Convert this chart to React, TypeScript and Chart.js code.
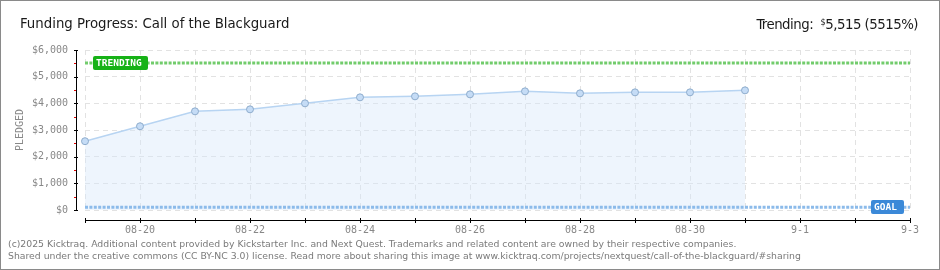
import React, { useEffect, useRef } from "react";
import { Chart, registerables } from "chart.js";

Chart.register(...registerables);

const dayLabels = ["08-19", "08-20", "08-21", "08-22", "08-23", "08-24", "08-25", "08-26", "08-27", "08-28", "08-29", "08-30", "08-31", "9-1", "9-2", "9-3"];
const pledged = [2580, 3140, 3700, 3775, 4000, 4225, 4262, 4337, 4450, 4375, 4412, 4412, 4487];
const trendingValue = 5515;
const goalValue = 100;
const yMajorTicks = [0, 1000, 2000, 3000, 4000, 5000, 6000];
const yMinorTicks = [500, 1500, 2500, 3500, 4500, 5500];

const MONO = "'DejaVu Sans Mono', monospace";

const decor = {
  id: "decor",
  afterDraw(chart: any) {
    const { ctx, chartArea, scales } = chart;
    const x = scales.x;
    const y = scales.y;
    ctx.save();
    ctx.setTransform(1, 0, 0, 1, 0, 0);
    // y axis
    const ax = Math.round(chartArea.left) - 9;
    const yTop = Math.round(y.getPixelForValue(6000));
    const yBot = Math.round(y.getPixelForValue(0));
    ctx.fillStyle = "#000000";
    ctx.fillRect(ax, yTop, 1, yBot - yTop + 1);
    for (const v of yMajorTicks) {
      const py = Math.round(y.getPixelForValue(v));
      ctx.fillRect(ax - 2, py, 4, 1);
    }
    ctx.fillStyle = "#e00000";
    for (const v of yMinorTicks) {
      const py = Math.round(y.getPixelForValue(v));
      ctx.fillRect(ax - 2, py, 2, 1);
    }
    // x axis
    const ay = Math.round(chartArea.bottom) + 10;
    ctx.fillStyle = "#000000";
    ctx.fillRect(Math.round(chartArea.left), ay, Math.round(chartArea.right - chartArea.left) + 1, 1);
    for (let i = 0; i < dayLabels.length; i++) {
      const px = Math.round(x.getPixelForValue(i));
      ctx.fillRect(px, ay - 2, 1, 5);
    }
    // y title
    ctx.fillStyle = "#888";
    ctx.font = "10px " + MONO;
    ctx.textAlign = "center";
    ctx.textBaseline = "middle";
    ctx.translate(20, (chartArea.top + chartArea.bottom) / 2);
    ctx.rotate(-Math.PI / 2);
    ctx.fillText("PLEDGED", 0, 0);
    ctx.restore();

    // labels on lines
    const drawBox = (text: string, left: number, cy: number, w: number, color: string) => {
      ctx.save();
      ctx.fillStyle = color;
      const top = Math.round(cy - 7);
      ctx.beginPath();
      (ctx as any).roundRect(left, top, w, 14, 2);
      ctx.fill();
      ctx.fillStyle = "#fff";
      ctx.font = "bold 9.5px " + MONO;
      ctx.textAlign = "left";
      ctx.textBaseline = "middle";
      ctx.fillText(text, left + 3, top + 7.5);
      ctx.restore();
    };
    drawBox("TRENDING", chartArea.left + 8, y.getPixelForValue(trendingValue), 55, "#17b217");
    drawBox("GOAL", chartArea.right - 39, y.getPixelForValue(goalValue), 33, "#3b89d8");
  },
};

export default function App() {
  const ref = useRef<HTMLCanvasElement>(null);
  useEffect(() => {
    const chart = new Chart(ref.current as HTMLCanvasElement, {
      type: "line",
      data: {
        labels: dayLabels,
        datasets: [
          {
            data: dayLabels.map(() => goalValue),
            borderColor: "#8cbbea",
            borderWidth: 3,
            borderDash: [3, 1.4],
            pointRadius: 0,
            fill: false,
          },
          {
            data: dayLabels.map(() => trendingValue),
            borderColor: "#72cc6c",
            borderWidth: 3,
            borderDash: [3, 1.4],
            pointRadius: 0,
            fill: false,
          },
          {
            data: pledged,
            borderColor: "#b7d4f2",
            borderWidth: 1.5,
            backgroundColor: "rgba(214,232,250,0.42)",
            fill: "origin",
            tension: 0,
            pointRadius: 3.5,
            pointBackgroundColor: "#c5dcf6",
            pointBorderColor: "#8eaccc",
            pointBorderWidth: 1,
          },
        ],
      },
      options: {
        responsive: false,
        animation: false,
        devicePixelRatio: 1,
        events: [],
        layout: { padding: { left: 0, right: 30, top: 50, bottom: 0 } },
        plugins: { legend: { display: false }, tooltip: { enabled: false }, title: { display: false } },
        scales: {
          x: {
            type: "category",
            offset: false,
            grid: { color: "#e2e2e2", lineWidth: 1, drawTicks: false },
            border: { display: false, dash: [5, 4] },
            ticks: {
              autoSkip: false,
              maxRotation: 0,
              padding: 14,
              color: "#888",
              font: { family: MONO, size: 10 },
              callback: (_v: any, i: number) => (i % 2 === 1 ? dayLabels[i] : ""),
            },
            afterFit: (s: any) => {
              s.height = 60;
            },
          },
          y: {
            min: 0,
            max: 6000,
            grid: { color: "#e2e2e2", lineWidth: 1, drawTicks: false },
            border: { display: false, dash: [5, 4] },
            ticks: {
              stepSize: 1000,
              padding: 17,
              color: "#888",
              font: { family: MONO, size: 10 },
              callback: (v: any) => "$" + Number(v).toLocaleString("en-US"),
            },
            afterFit: (s: any) => {
              s.width = 85;
            },
          },
        },
      },
      plugins: [decor],
    });
    return () => chart.destroy();
  }, []);

  const titleFont = "'DejaVu Sans Condensed', 'DejaVu Sans', sans-serif";
  const footFont = "'DejaVu Sans', sans-serif";
  return (
    <div style={{ position: "absolute", left: 0, top: 0, width: 940, height: 270, background: "#fff", overflow: "hidden" }}>
      <canvas ref={ref} width={940} height={270} style={{ position: "absolute", left: 0, top: 0, width: 940, height: 270 }} />
      <div style={{ position: "absolute", left: 20, top: 15, fontFamily: titleFont, fontSize: 14.8, lineHeight: "15px", color: "#1a1a1a", whiteSpace: "nowrap" }}>
        Funding Progress: Call of the Blackguard
      </div>
      <div style={{ position: "absolute", right: 22, top: 15, fontFamily: titleFont, fontSize: 14.8, lineHeight: "15px", letterSpacing: "-0.5px", color: "#1a1a1a", whiteSpace: "nowrap", textAlign: "right" }}>
        Trending:&nbsp; <span style={{ fontSize: 9, verticalAlign: "4px" }}>$</span>5,515 (5515%)
      </div>
      <div style={{ position: "absolute", left: 8, top: 238, fontFamily: footFont, fontSize: 9.3, lineHeight: "12px", color: "#7a7a7a", whiteSpace: "nowrap" }}>
        (c)2025 Kicktraq. Additional content provided by Kickstarter Inc. and Next Quest. Trademarks and related content are owned by their respective companies.
        <br />
        Shared under the creative commons (CC BY-NC 3.0) license. Read more about sharing this image at www.kicktraq.com/projects/nextquest/call-of-the-blackguard/#sharing
      </div>
      <div style={{ position: "absolute", left: 0, top: 0, width: 940, height: 270, boxSizing: "border-box", border: "1px solid #8a8a8a", pointerEvents: "none" }} />
    </div>
  );
}
